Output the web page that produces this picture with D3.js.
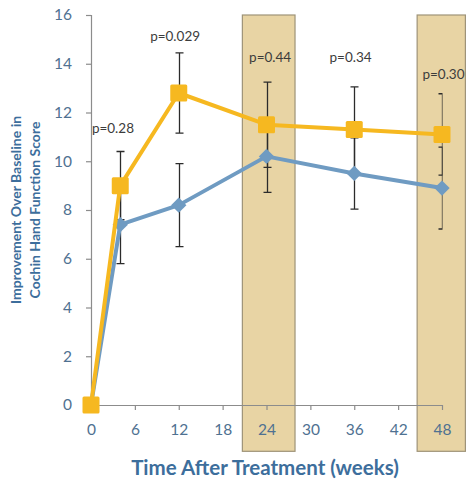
<!DOCTYPE html>
<html>
<head>
<meta charset="utf-8">
<script src="https://cdn.jsdelivr.net/npm/d3@7"></script>
<style>
  html, body { margin: 0; padding: 0; background: #ffffff; }
  svg { display: block; }
</style>
</head>
<body>
<svg id="chart" width="468" height="480"></svg>
<script>
// ---- data ----
const weeks = [0, 4, 12, 24, 36, 48];
const xTicks = [0, 6, 12, 18, 24, 30, 36, 42, 48];
const yTicks = [0, 2, 4, 6, 8, 10, 12, 14, 16];
const yellowValues = [0, 9.0, 12.8, 11.5, 11.3, 11.1];
const yellowErrors = [0, 1.4, 1.65, 1.75, 1.75, 1.67];
const blueValues = [0, 7.4, 8.2, 10.2, 9.5, 8.9];
const blueErrors = [0, 1.6, 1.7, 1.48, 1.46, 1.68];
const pLabels = ["p=0.28", "p=0.029", "p=0.44", "p=0.34", "p=0.30"];
const pWeeks = [3.0, 11.5, 24.5, 35.5, 48.2];
const pLevels = [11.38, 15.14, 14.26, 14.26, 13.58];
const highlightStart = [20.7, 44.6];
const highlightEnd = [27.9, 51.2];
const highlightTop = 16;
const highlightBottom = -1.9;
const xTitle = "Time After Treatment (weeks)";
const yTitleLines = ["Improvement Over Baseline in", "Cochin Hand Function Score"];

// ---- setup ----
const svg = d3.select("#chart");
const x = d3.scaleLinear().domain([0, 48]).range([91, 442]);
const y = d3.scaleLinear().domain([0, 16]).range([405, 15]);
const font = "Lato, 'Open Sans', sans-serif";
const tickColor = "#4f7191";
const titleColor = "#3d6e9c";
const axisColor = "#8c8c8c";
const yellow = "#f6b820";
const blue = "#6f9bc2";

// highlight boxes
svg.append("g").selectAll("rect")
  .data(highlightStart.map((s, i) => ({ s, e: highlightEnd[i] })))
  .join("rect")
  .attr("x", d => x(d.s))
  .attr("width", d => x(d.e) - x(d.s))
  .attr("y", y(highlightTop))
  .attr("height", y(highlightBottom) - y(highlightTop))
  .attr("fill", "#e8d4a4")
  .attr("stroke", "#9e9378")
  .attr("stroke-width", 1.2);

// axes
const yAxis = d3.axisLeft(y).tickValues(yTicks).tickSize(5).tickPadding(14);
const gy = svg.append("g").attr("transform", `translate(${x(0)},0)`).call(yAxis);
const xAxis = d3.axisBottom(x).tickValues(xTicks).tickSize(5).tickPadding(14);
const gx = svg.append("g").attr("transform", `translate(0,${y(0)})`).call(xAxis);
[gx, gy].forEach(g => {
  g.select(".domain").attr("stroke", axisColor).attr("stroke-width", 1.2);
  g.selectAll(".tick line").attr("stroke", axisColor).attr("stroke-width", 1.2);
  g.selectAll(".tick text").attr("fill", tickColor)
    .style("font-family", font).style("font-size", "15.5px");
});
gx.select(".domain").attr("d", `M${x(0)},0.5H${x(48) + 1}`);
gy.select(".domain").attr("d", `M0.5,${y(16)}V${y(0)}`);
gx.selectAll(".tick").filter(d => d === 0).select("line").remove();

// clip for error bars
svg.append("defs").append("clipPath").attr("id", "plotclip")
  .append("rect").attr("x", 0).attr("y", 0).attr("width", x(48) + 0.5).attr("height", 480);

function drawErr(values, errors) {
  const g = svg.append("g").attr("clip-path", "url(#plotclip)")
    .attr("stroke", "#2b2b2b").attr("stroke-width", 1.3).attr("fill", "none");
  weeks.forEach((w, i) => {
    if (errors[i] <= 0) return;
    const cx = Math.round(x(w)) + 0.5;
    const y1 = y(values[i] + errors[i]), y2 = y(values[i] - errors[i]);
    g.append("path").attr("d",
      `M${cx},${y1}V${y2}M${cx - 4},${y1}H${cx + 4}M${cx - 4},${y2}H${cx + 4}`);
  });
}
drawErr(blueValues, blueErrors);
drawErr(yellowValues, yellowErrors);

const line = d3.line().x(d => x(d[0])).y(d => y(d[1]));

// blue series
svg.append("path")
  .datum(weeks.map((w, i) => [w, blueValues[i]]))
  .attr("d", line).attr("fill", "none").attr("stroke", blue)
  .attr("stroke-width", 4).attr("stroke-linejoin", "round");
svg.append("g").selectAll("path")
  .data(weeks.map((w, i) => [w, blueValues[i]]))
  .join("path")
  .attr("d", d3.symbol(d3.symbolDiamond2, 150))
  .attr("transform", d => `translate(${x(d[0])},${y(d[1])})`)
  .attr("fill", blue);

// yellow series
svg.append("path")
  .datum(weeks.map((w, i) => [w, yellowValues[i]]))
  .attr("d", line).attr("fill", "none").attr("stroke", yellow)
  .attr("stroke-width", 4).attr("stroke-linejoin", "round");
svg.append("g").selectAll("rect")
  .data(weeks.map((w, i) => [w, yellowValues[i]]))
  .join("rect")
  .attr("x", d => x(d[0]) - 8.5).attr("y", d => y(d[1]) - 8.5)
  .attr("width", 17).attr("height", 17).attr("rx", 1.5)
  .attr("fill", yellow);

// p-value labels
svg.append("g").selectAll("text")
  .data(pLabels.map((t, i) => ({ t, w: pWeeks[i], v: pLevels[i] })))
  .join("text")
  .attr("x", d => x(d.w)).attr("y", d => y(d.v))
  .attr("text-anchor", "middle").attr("dominant-baseline", "central")
  .attr("fill", "#3c3c3c")
  .style("font-family", font).style("font-size", "13.5px")
  .text(d => d.t);

// titles
svg.append("text")
  .attr("x", 265).attr("y", 467)
  .attr("text-anchor", "middle").attr("dominant-baseline", "central")
  .attr("fill", titleColor).style("font-family", font)
  .style("font-size", "20.5px").style("font-weight", "bold")
  .text(xTitle);

svg.append("g").attr("transform", "translate(15,210) rotate(-90)")
  .selectAll("text").data(yTitleLines).join("text")
  .attr("x", 0).attr("y", (d, i) => i * 19)
  .attr("text-anchor", "middle").attr("dominant-baseline", "central")
  .attr("fill", titleColor).style("font-family", font)
  .style("font-size", "14px").style("font-weight", "bold")
  .text(d => d);
</script>
</body>
</html>
